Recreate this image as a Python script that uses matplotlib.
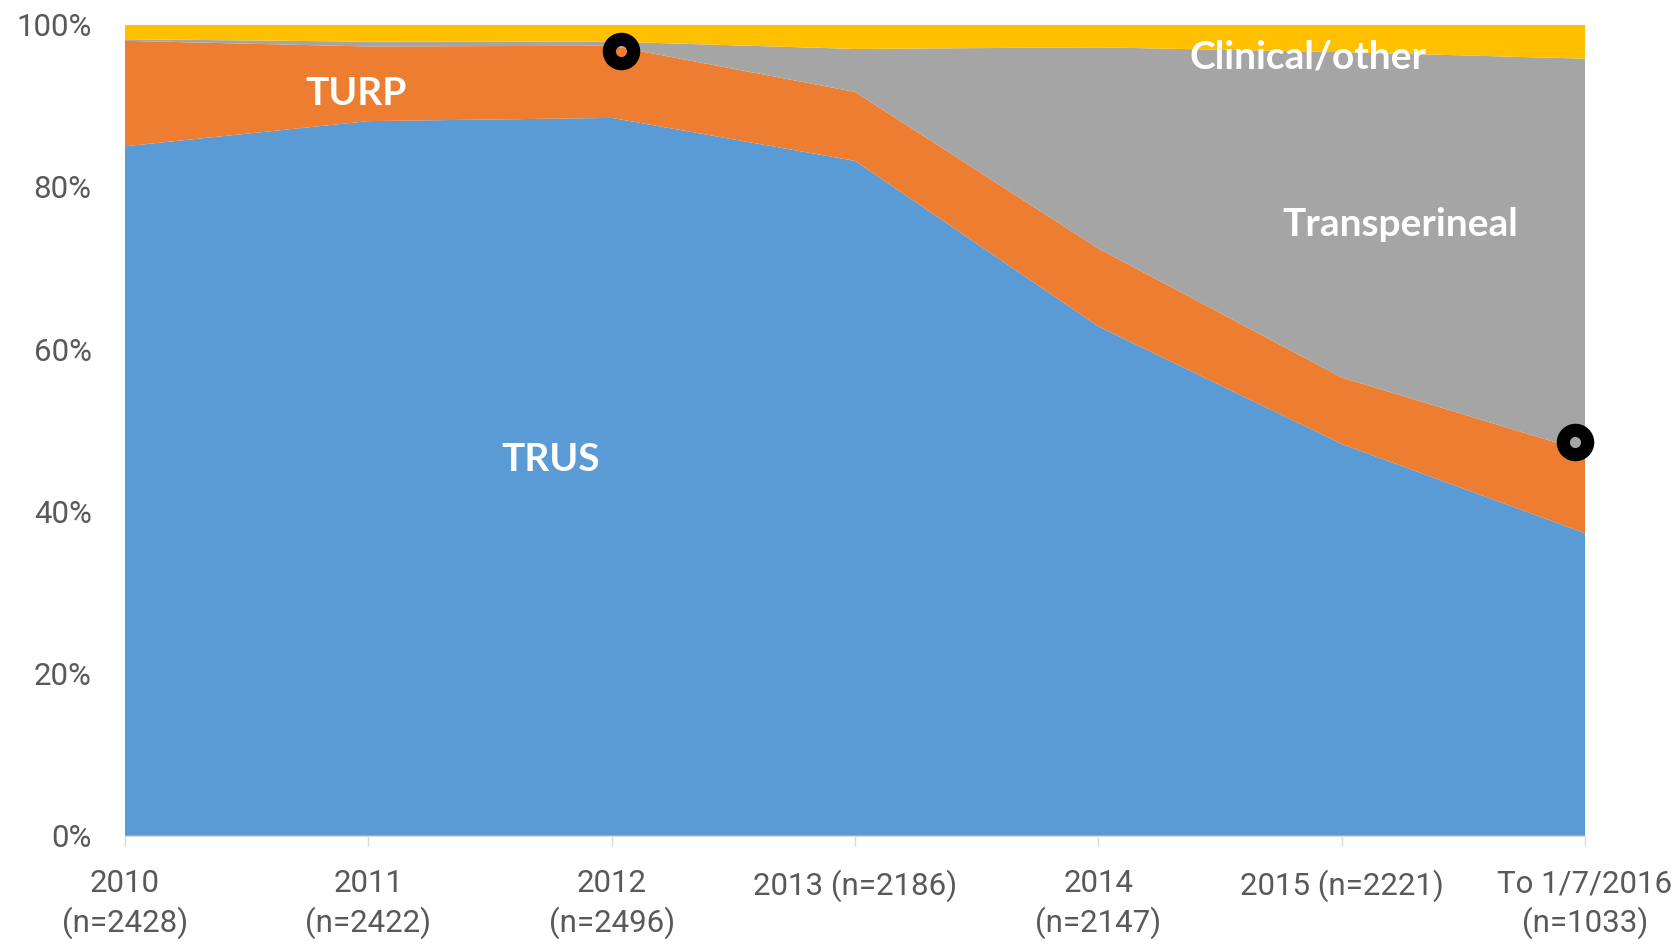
import matplotlib.pyplot as plt
import numpy as np

# Biopsy type share by year (%)
categories = ['2010\n(n=2428)', '2011\n(n=2422)', '2012\n(n=2496)', '2013 (n=2186)',
              '2014\n(n=2147)', '2015 (n=2221)', 'To 1/7/2016\n(n=1033)']
trus = [85.0, 88.1, 88.5, 83.2, 62.8, 48.3, 37.3]
turp = [13.0, 9.2, 8.9, 8.5, 9.6, 8.2, 10.1]
transperineal = [0.2, 0.6, 0.5, 5.3, 24.8, 40.1, 48.4]
clinical_other = [1.8, 2.1, 2.1, 3.0, 2.8, 3.4, 4.2]

series_names = ['TRUS', 'TURP', 'Transperineal', 'Clinical/other']
colors = ['#5B9BD5', '#ED7D31', '#A5A5A5', '#FFC000']
yticks = [0, 20, 40, 60, 80, 100]

x = np.arange(len(categories))

fig = plt.figure(figsize=(16.78, 9.46), dpi=100)
ax = fig.add_axes([0.0745, 0.1165, 0.8701, 0.8575])

ax.stackplot(x, trus, turp, transperineal, clinical_other, colors=colors, labels=series_names,
             linewidth=0)

ax.set_xlim(x[0], x[-1])
ax.set_ylim(0, 100)
ax.set_yticks(yticks)
ax.set_yticklabels([f'{v}%' for v in yticks])
ax.set_xticks(x)
ax.set_xticklabels(categories, linespacing=1.33)

for s in ['left', 'right']:
    ax.spines[s].set_visible(False)
ax.spines['top'].set_color('#D9D9D9')
ax.spines['bottom'].set_color('#D9D9D9')
ax.spines['top'].set_zorder(0)

ax.tick_params(axis='y', length=0, pad=24)
ax.tick_params(axis='x', length=7, width=1, color='#D9D9D9', pad=17)
for lab in ax.get_xticklabels() + ax.get_yticklabels():
    lab.set_fontfamily(['Roboto', 'DejaVu Sans'])
    lab.set_fontweight('normal')
    lab.set_fontsize(22.5)
    lab.set_color('#595959')

# series labels
lab_kw = dict(color='white', fontweight='bold', fontsize=28, family=['Lato', 'DejaVu Sans'],
              ha='center', va='center')
ax.text(0.95, 91.5, 'TURP', **lab_kw)
ax.text(1.75, 46.4, 'TRUS', **lab_kw)
ax.text(5.24, 75.3, 'Transperineal', **lab_kw)
ax.text(4.86, 96.0, 'Clinical/other', **lab_kw)

# ring markers
ax.plot([2.04, 5.96], [96.8, 48.5], 'o', markersize=17.5, markerfacecolor='none',
        markeredgecolor='black', markeredgewidth=9.5, clip_on=False)

fig.savefig('out.png', dpi=100)
